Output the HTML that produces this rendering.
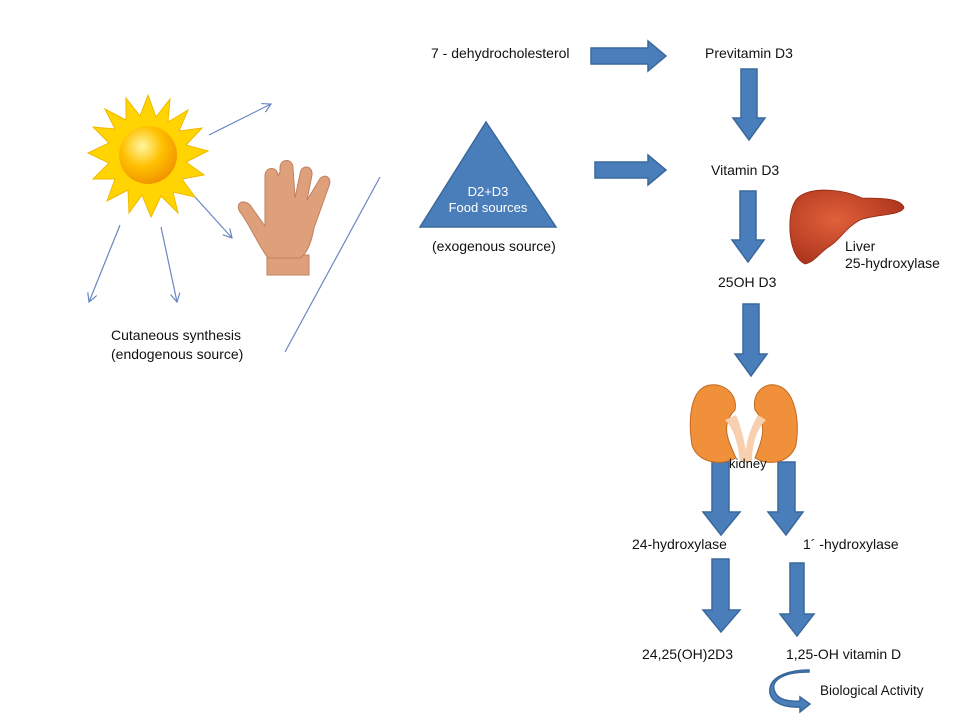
<!DOCTYPE html>
<html><head><meta charset="utf-8"><style>
body{margin:0;background:#fff;}
svg{display:block;font-family:"Liberation Sans",sans-serif;}
</style></head><body>
<svg width="960" height="720" viewBox="0 0 960 720">
<defs>
<radialGradient id="sun" cx="40%" cy="35%" r="70%"><stop offset="0" stop-color="#fff6a0"/><stop offset="0.5" stop-color="#ffc000"/><stop offset="1" stop-color="#f09000"/></radialGradient>
<radialGradient id="liv" cx="40%" cy="40%" r="70%"><stop offset="0" stop-color="#e0603a"/><stop offset="1" stop-color="#a8301a"/></radialGradient>
<marker id="ah" markerWidth="10" markerHeight="10" refX="9" refY="5" orient="auto" markerUnits="userSpaceOnUse"><path d="M0,0 L9,5 L0,10" fill="none" stroke="#6a86c0" stroke-width="1.2"/></marker>
</defs>
<g fill="#4a7ebb" stroke="#3a689c" stroke-width="1.5">
<path d="M591,48 H648 V41 L666,56 L648,71 V64 H591 Z"/>
<path d="M595,162 H648 V155 L666,170 L648,185 V178 H595 Z"/>
<path d="M741,69 H757 V118 H765 L749,140 L733,118 H741 Z"/>
<path d="M740,191 H756 V240 H764 L748,262 L732,240 H740 Z"/>
<path d="M743,304 H759 V354 H767 L751,376 L735,354 H743 Z"/>
<path d="M712,462 H729 V512 H740 L721,535 L703,512 H712 Z"/>
<path d="M778,462 H795 V512 H803 L786,535 L768,512 H778 Z"/>
<path d="M712,559 H729 V610 H740 L721,632 L703,610 H712 Z"/>
<path d="M790,563 H804 V614 H814 L797,636 L780,614 H790 Z"/>
<path d="M809,672 C780,672 770,682 775,692 C778,700 790,702 800,701 V697 L810,704 L800,712 V707 C780,708 768,700 770,688 C772,676 790,670 809,670 Z"/>
</g>
<path d="M486,122 L556,227 L420,227 Z" fill="#4a7ebb" stroke="#3a689c" stroke-width="1.5"/>
<text x="488" y="196" font-size="13" fill="#fff" text-anchor="middle">D2+D3</text>
<text x="488" y="212" font-size="13" fill="#fff" text-anchor="middle">Food sources</text>
<g transform="translate(148,155)">
<polygon fill="#ffd400" stroke="#f0b800" stroke-width="1" points="0,-60 8,-38 22,-56 20,-33 40,-45 31,-24 54,-27 38,-10 60,-4 38,7 56,20 34,24 47,42 25,37 30,58 13,41 3,62 -6,40 -19,58 -20,35 -41,46 -33,24 -55,24 -39,8 -60,-2 -39,-12 -55,-28 -33,-26 -43,-46 -22,-35 -22,-57 -8,-39"/>
<circle r="29" fill="url(#sun)"/>
</g>
<g stroke="#6a86c0" stroke-width="1.2" fill="none">
<line x1="209" y1="135" x2="271" y2="104" marker-end="url(#ah)"/>
<line x1="195" y1="197" x2="232" y2="238" marker-end="url(#ah)"/>
<line x1="120" y1="225" x2="89" y2="302" marker-end="url(#ah)"/>
<line x1="161" y1="227" x2="177" y2="302" marker-end="url(#ah)"/>
<line x1="380" y1="177" x2="285" y2="352"/>
</g>
<g fill="#dda07a" stroke="#c08060" stroke-width="1">
<rect x="267" y="255" width="42" height="20"/>
<path d="M268,258 C258,245 250,225 240,212 C235,204 242,198 250,205 L265,226 L265,176 C265,166 278,166 278,176 L280,172 L280,168 C280,158 293,158 293,168 L295,198 L300,174 C301,164 313,165 312,175 L307,200 L318,182 C322,172 333,176 329,186 L314,228 C311,245 306,254 300,258 Z"/>
</g>
<path d="M800,196 C815,186 845,190 862,198 C880,198 902,198 904,208 C900,216 875,214 860,220 C845,228 840,240 830,246 C820,252 815,262 805,264 C792,258 789,236 790,220 C791,208 794,200 800,196 Z" fill="url(#liv)" stroke="#902a15" stroke-width="0.8"/>
<g fill="#f0903a" stroke="#c06a20" stroke-width="1">
<path d="M710,385 C690,388 688,420 692,445 C697,462 720,467 736,458 C728,440 720,425 735,410 C738,395 725,383 710,385 Z"/>
<path d="M775,385 C795,388 800,420 796,445 C791,462 770,467 755,458 C762,440 768,425 755,410 C752,395 762,383 775,385 Z"/>
</g>
<path d="M725,420 C735,430 738,445 740,462 L748,462 C745,445 742,428 736,415 Z" fill="#f8d0b0"/>
<path d="M766,420 C756,430 752,445 752,462 L745,462 C745,445 750,428 758,415 Z" fill="#f8d0b0"/>
<g font-size="14" fill="#111">
<text x="431" y="58">7 - dehydrocholesterol</text>
<text x="705" y="58">Previtamin D3</text>
<text x="711" y="175">Vitamin D3</text>
<text x="718" y="287">25OH D3</text>
<text x="432" y="251">(exogenous source)</text>
<text x="111" y="340">Cutaneous synthesis</text>
<text x="111" y="359">(endogenous source)</text>
<text x="845" y="251">Liver</text>
<text x="845" y="268">25-hydroxylase</text>
<text x="729" y="468" font-size="13">kidney</text>
<text x="632" y="549">24-hydroxylase</text>
<text x="803" y="549">1´ -hydroxylase</text>
<text x="642" y="659">24,25(OH)2D3</text>
<text x="786" y="659">1,25-OH vitamin D</text>
<text x="820" y="695" font-size="13.5">Biological Activity</text>
</g>
</svg>
</body></html>
